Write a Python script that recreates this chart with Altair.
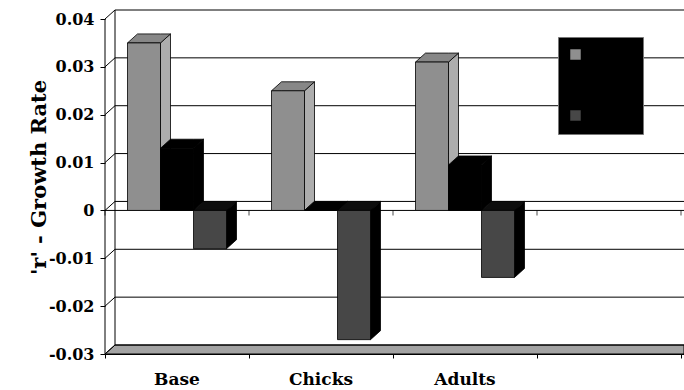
import altair as alt
import pandas as pd

# Growth rate 'r' for each scenario, three series per scenario
groups = ["Base", "Chicks", "Adults"]
series = ["Series1", "Series2", "Series3"]
series1 = [0.035, 0.025, 0.031]
series2 = [0.013, 0.0, 0.0095]
series3 = [-0.008, -0.027, -0.014]
y_ticks = [-0.03, -0.02, -0.01, 0.0, 0.01, 0.02, 0.03, 0.04]
n_slots = 4  # category slots along the axis (the last one is left empty)

# ---- pseudo-3D layout --------------------------------------------------
PLOT_W, PLOT_H = 579, 344
SLOT_PX = 144
X_MAX = PLOT_W / SLOT_PX
Y_MIN, Y_MAX = -0.03, 0.04
DEPTH_X_PX, DEPTH_Y_PX = 10, 9
PX_PER_Y = (PLOT_H - DEPTH_Y_PX) / (Y_MAX - Y_MIN)
DX = DEPTH_X_PX / SLOT_PX          # depth offset in x (slot units)
DY = DEPTH_Y_PX / PX_PER_Y         # depth offset in y (data units)
BW = 33 / SLOT_PX                  # bar width in slot units
GAP = (1 - 3 * BW) / 2

front_col = ["#8f8f8f", "#000000", "#474747"]
side_col = ["#adadad", "#000000", "#000000"]
top_col = ["#878787", "#000000", "#0d0d0d"]

values = [series1, series2, series3]
fronts, sides, tops = [], [], []
for c, g in enumerate(groups):
    for s, name in enumerate(series):
        v = values[s][c]
        xl = c + GAP + s * BW
        xr = xl + BW
        bid = f"{g}|{name}"
        fronts.append(dict(bar=bid, series=name, x=xl, x2=xr, y=0.0, y2=v))
        lo, hi = min(0.0, v), max(0.0, v)
        sides += [
            dict(bar=bid, shade=name + " side", x=xr, lo=lo, hi=hi),
            dict(bar=bid, shade=name + " side", x=xr + DX, lo=lo + DY, hi=hi + DY),
        ]
        tops += [
            dict(bar=bid, shade=name + " top", x=xl, lo=hi, hi=hi),
            dict(bar=bid, shade=name + " top", x=xl + DX, lo=hi, hi=hi + DY),
            dict(bar=bid, shade=name + " top", x=xr, lo=hi, hi=hi + DY),
            dict(bar=bid, shade=name + " top", x=xr + DX, lo=hi + DY, hi=hi + DY),
        ]

front_df = pd.DataFrame(fronts)
side_df = pd.DataFrame(sides)
top_df = pd.DataFrame(tops)

shade_domain = [n + " side" for n in series] + [n + " top" for n in series]
shade_range = side_col + top_col

xs = alt.Scale(domain=[0, X_MAX], nice=False, zero=False)
ys = alt.Scale(domain=[Y_MIN, Y_MAX + DY], nice=False, zero=False)

# floor slab
floor_df = pd.DataFrame(dict(
    x=[0, DX, X_MAX],
    lo=[Y_MIN, Y_MIN, Y_MIN],
    hi=[Y_MIN, Y_MIN + DY, Y_MIN + DY],
))
floor = alt.Chart(floor_df).mark_area(
    orient="vertical", fill="#a3a3a3", stroke="black", strokeWidth=1
).encode(
    x=alt.X("x:Q", scale=xs),
    y=alt.Y("lo:Q", scale=ys, stack=None),
    y2="hi:Q",
)

# back-wall gridlines
grid_df = pd.DataFrame(dict(x=[DX] * len(y_ticks), x2=[X_MAX] * len(y_ticks),
                            y=[t + DY for t in y_ticks]))
grid = alt.Chart(grid_df).mark_rule(color="black", strokeWidth=1).encode(
    x=alt.X("x:Q", scale=xs), x2="x2:Q",
    y=alt.Y("y:Q", scale=ys),
)

# back-wall left edge
edge_df = pd.DataFrame(dict(x=[DX], y=[Y_MIN + DY], y2=[Y_MAX + DY]))
edge = alt.Chart(edge_df).mark_rule(color="black", strokeWidth=1).encode(
    x=alt.X("x:Q", scale=xs),
    y=alt.Y("y:Q", scale=ys), y2="y2:Q",
)

# side-wall connectors from front ticks to the back wall
conn_df = pd.DataFrame(dict(x=[0.0] * len(y_ticks), x2=[DX] * len(y_ticks),
                            y=y_ticks, y2=[t + DY for t in y_ticks]))
conn = alt.Chart(conn_df).mark_rule(color="black", strokeWidth=1).encode(
    x=alt.X("x:Q", scale=xs), x2="x2:Q",
    y=alt.Y("y:Q", scale=ys), y2="y2:Q",
)

# front value axis line (carries the y axis)
vaxis_df = pd.DataFrame(dict(x=[0.0], y=[Y_MIN], y2=[Y_MAX]))
vaxis = alt.Chart(vaxis_df).mark_rule(color="black", strokeWidth=1).encode(
    x=alt.X("x:Q", scale=xs),
    y=alt.Y("y:Q", scale=ys, axis=alt.Axis(
        values=y_ticks,
        labelExpr="datum.value == 0 ? '0' : (datum.value < 0 ? '-' : '') + format(abs(datum.value), '.2f')",
        domain=False, grid=False, ticks=True, tickSize=5, tickColor="black",
        labelPadding=6, labelFont="DejaVu Serif", labelFontWeight="bold",
        labelFontSize=16, labelColor="black",
        title="'r' - Growth Rate", titleFont="DejaVu Serif", titleFontWeight="bold",
        titleFontSize=21, titleColor="black", titleAngle=270, titleAlign="center",
        titleBaseline="alphabetic", titleX=-60, titleY=167,
    )),
    y2="y2:Q",
)

# category axis line at zero with slot ticks
zero_df = pd.DataFrame(dict(x=[0.0], x2=[X_MAX], y=[0.0]))
zero = alt.Chart(zero_df).mark_rule(color="black", strokeWidth=1).encode(
    x=alt.X("x:Q", scale=xs), x2="x2:Q",
    y=alt.Y("y:Q", scale=ys),
)
slot_df = pd.DataFrame(dict(x=list(range(n_slots + 1)), y=[0.0] * (n_slots + 1)))
zero_ticks = alt.Chart(slot_df).mark_tick(
    orient="vertical", size=5, thickness=1, color="black", yOffset=2.5
).encode(
    x=alt.X("x:Q", scale=xs),
    y=alt.Y("y:Q", scale=ys),
)

# bar faces
side = alt.Chart(side_df).mark_area(
    orient="vertical", stroke="black", strokeWidth=0.8, interpolate="linear"
).encode(
    x=alt.X("x:Q", scale=xs),
    y=alt.Y("lo:Q", scale=ys, stack=None),
    y2="hi:Q",
    detail="bar:N",
    color=alt.Color("shade:N", scale=alt.Scale(domain=shade_domain, range=shade_range), legend=None),
)
top = alt.Chart(top_df).mark_area(
    orient="vertical", stroke="black", strokeWidth=0.8, interpolate="linear"
).encode(
    x=alt.X("x:Q", scale=xs),
    y=alt.Y("lo:Q", scale=ys, stack=None),
    y2="hi:Q",
    detail="bar:N",
    color=alt.Color("shade:N", scale=alt.Scale(domain=shade_domain, range=shade_range), legend=None),
)
front = alt.Chart(front_df).mark_bar(stroke="black", strokeWidth=0.8).encode(
    x=alt.X("x:Q", scale=xs, axis=alt.Axis(
        values=list(range(n_slots + 1)), labels=False, title=None, grid=False,
        tickSize=4, tickColor="black", domain=True, domainColor="black",
    )),
    x2="x2:Q",
    y=alt.Y("y:Q", scale=ys, stack=None),
    y2="y2:Q",
    fill=alt.Fill("series:N", scale=alt.Scale(domain=series, range=front_col),
                  legend=alt.Legend(
                      orient="none", legendX=453, legendY=27, title=None,
                      fillColor="black", strokeColor="#777777", padding=10,
                      rowPadding=14.5, symbolType="square", symbolSize=110,
                      symbolStrokeWidth=0, labelColor="black",
                      labelFont="Liberation Serif", labelFontSize=15, labelOffset=5,
                  )),
)

# category labels
lab_df = pd.DataFrame(dict(x=[c + 0.5 for c in range(len(groups))], y=[Y_MIN] * len(groups), label=groups))
labels = alt.Chart(lab_df).mark_text(
    font="DejaVu Serif", fontWeight="bold", fontSize=17, baseline="alphabetic",
    align="center", dy=31, color="black",
).encode(
    x=alt.X("x:Q", scale=xs),
    y=alt.Y("y:Q", scale=ys),
    text="label:N",
)

chart = alt.layer(
    floor, grid, edge, conn, vaxis, zero, zero_ticks, side, top, front, labels
).properties(
    width=PLOT_W, height=PLOT_H,
    padding={"left": 105, "top": 10, "right": 0, "bottom": 36},
    autosize=alt.AutoSizeParams(type="none"),
    background="white",
).configure_view(stroke=None)

chart.save("out.html", embed_options={"renderer": "svg", "actions": False})
